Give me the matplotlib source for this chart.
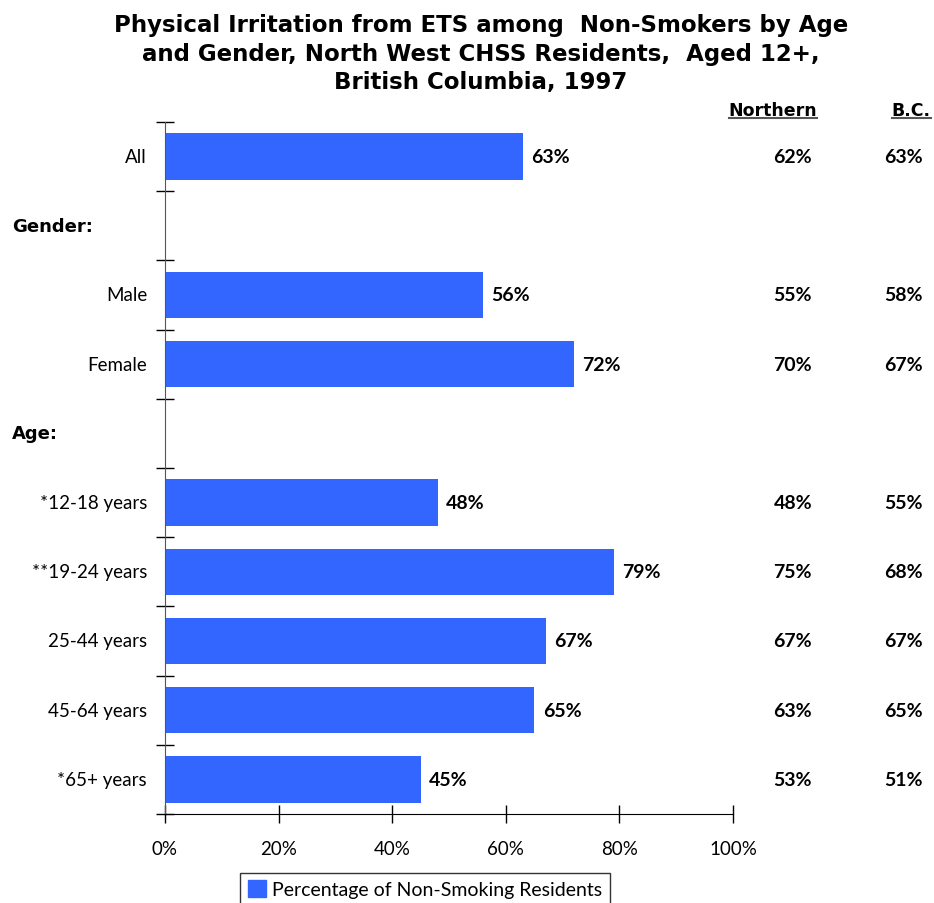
import matplotlib
matplotlib.use('Agg')
import matplotlib.pyplot as plt
import matplotlib.transforms as mtransforms
from matplotlib.lines import Line2D
from matplotlib.patches import Patch

plt.rcParams['font.family'] = ['Lato', 'DejaVu Sans']

# 데이터
categories = ['All', 'Gender:', 'Male', 'Female', 'Age:',
              '*12-18 years', '**19-24 years', '25-44 years', '45-64 years', '*65+ years']
is_header = [False, True, False, False, True, False, False, False, False, False]
values = [63, None, 56, 72, None, 48, 79, 67, 65, 45]
northern = [62, None, 55, 70, None, 48, 75, 67, 63, 53]
bc = [63, None, 58, 67, None, 55, 68, 67, 65, 51]
x_ticks = [0, 20, 40, 60, 80, 100]
bar_color = '#3366FF'

fig = plt.figure(figsize=(9.34, 9.04), dpi=100)
ax = fig.add_axes([165 / 934, 89 / 904, 568 / 934, 692 / 904])

for i, v in enumerate(values):
    if v is None:
        continue
    ax.barh(i, v, height=0.67, color=bar_color)
    ax.text(v + 1.5, i, f"{v}%", va='center', ha='left', fontsize=14,
            fontweight='bold', color='black')

ax.set_xlim(0, 100)
ax.set_ylim(len(categories) - 0.5, -0.5)
ax.set_xticks(x_ticks)
ax.set_xticklabels([f"{t}%" for t in x_ticks], fontsize=13.5)
ax.set_yticks([i - 0.5 for i in range(len(categories) + 1)])
ax.set_yticklabels([])
ax.tick_params(axis='both', direction='inout', length=13, width=1, color='black')
ax.tick_params(axis='x', pad=12)
for side in ['top', 'right']:
    ax.spines[side].set_visible(False)
ax.spines['left'].set_color('#555555')

# 카테고리 라벨
trans_fig_data = mtransforms.blended_transform_factory(fig.transFigure, ax.transData)
for i, (c, h) in enumerate(zip(categories, is_header)):
    if h:
        fig.text(12 / 934, i, c, transform=trans_fig_data, ha='left', va='center',
                 fontsize=13, fontweight='bold', family='DejaVu Sans')
    else:
        fig.text(147 / 934, i, c, transform=trans_fig_data, ha='right', va='center',
                 fontsize=13.5)

# Northern / B.C. 열
for i in range(len(categories)):
    if northern[i] is not None:
        fig.text(812 / 934, i, f"{northern[i]}%", transform=trans_fig_data,
                 ha='right', va='center', fontsize=14, fontweight='bold')
    if bc[i] is not None:
        fig.text(923 / 934, i, f"{bc[i]}%", transform=trans_fig_data,
                 ha='right', va='center', fontsize=14, fontweight='bold')

hdr1 = fig.text(773 / 934, 1 - 111 / 904, 'Northern', ha='center', va='center',
                fontsize=12.5, fontweight='bold', family='DejaVu Sans')
hdr2 = fig.text(911 / 934, 1 - 111 / 904, 'B.C.', ha='center', va='center',
                fontsize=12.5, fontweight='bold', family='DejaVu Sans')

fig.text(481 / 934, 1 - 54 / 904,
         "Physical Irritation from ETS among  Non-Smokers by Age\n"
         "and Gender, North West CHSS Residents,  Aged 12+,\n"
         "British Columbia, 1997",
         ha='center', va='center', fontsize=16.5, fontweight='bold', linespacing=1.3,
         family='DejaVu Sans')

fig.legend(handles=[Patch(color=bar_color, label='Percentage of Non-Smoking Residents')],
           loc='lower center', bbox_to_anchor=(425 / 934, -0.014), fontsize=14,
           frameon=True, fancybox=False, edgecolor='black', handlelength=0.9,
           handleheight=0.9, handletextpad=0.3, borderpad=0.4)

# 헤더 밑줄
fig.canvas.draw()
renderer = fig.canvas.get_renderer()
inv = fig.transFigure.inverted()
for hdr in [hdr1, hdr2]:
    bb = hdr.get_window_extent(renderer)
    (x0, y0), (x1, y1) = inv.transform([(bb.x0, bb.y0), (bb.x1, bb.y1)])
    fig.add_artist(Line2D([x0, x1], [y0 + 0.001, y0 + 0.001], transform=fig.transFigure,
                          color='#555555', linewidth=1.5))

fig.savefig('out.png', dpi=100)
